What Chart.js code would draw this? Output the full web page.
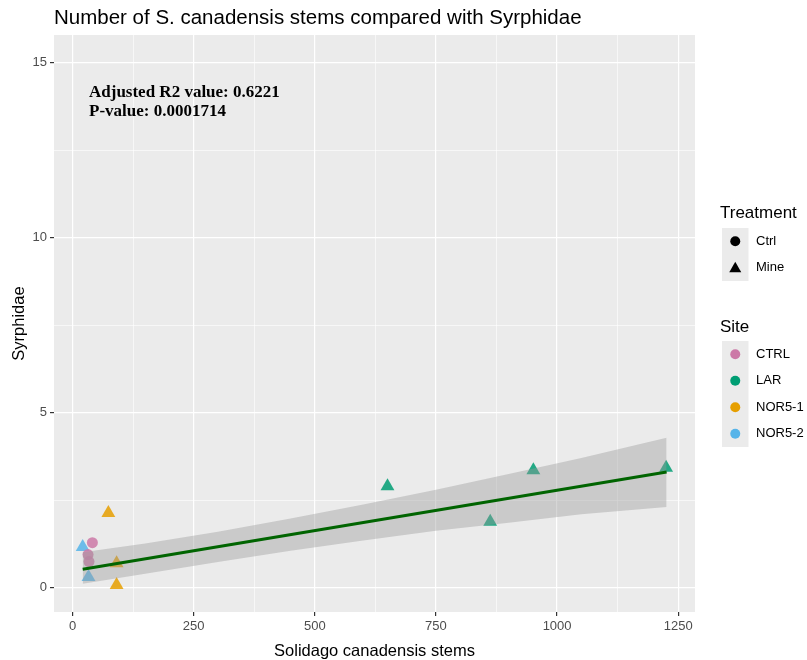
<!DOCTYPE html>
<html>
<head>
<meta charset="utf-8">
<title>S. canadensis stems vs Syrphidae</title>
<script src="https://cdn.jsdelivr.net/npm/chart.js@4.4.1/dist/chart.umd.min.js"></script>
<style>
  body { margin: 0; background: #fff; }
  canvas { display: block; }
</style>
</head>
<body>
<canvas id="syrphidChart" width="807" height="660"></canvas>
<script>
// Observations per site (stems, syrphid count)
const ctrlStems = [41, 32, 34];
const ctrlSyrphidae = [1.29, 0.95, 0.75];
const larStems = [650, 862, 951, 1225];
const larSyrphidae = [2.90, 1.89, 3.36, 3.43];
const nor51Stems = [74, 91, 91];
const nor51Syrphidae = [2.14, 0.70, 0.08];
const nor52Stems = [21, 33];
const nor52Syrphidae = [1.17, 0.31];

// Linear fit and its confidence band
const fitStems = [21, 1226];
const fitValues = [0.53, 3.31];
const bandStems = [21, 150, 300, 450, 600, 750, 900, 1050, 1226];
const bandLower = [0.12, 0.40, 0.74, 1.06, 1.35, 1.63, 1.86, 2.10, 2.31];
const bandUpper = [1.02, 1.27, 1.60, 1.98, 2.38, 2.80, 3.25, 3.71, 4.29];

// Axis breaks
const xTicks = [0, 250, 500, 750, 1000, 1250];
const xMinor = [125, 375, 625, 875, 1125];
const yTicks = [0, 5, 10, 15];
const yMinor = [2.5, 7.5, 12.5];

const siteNames = ['CTRL', 'LAR', 'NOR5-1', 'NOR5-2'];
const siteColors = ['#CC79A7', '#009E73', '#E69F00', '#56B4E9'];

const SANS = '"Liberation Sans", Arial, sans-serif';

const toPoints = (xs, ys) => xs.map((x, i) => ({ x: x, y: ys[i] }));
const withAlpha = (hex, a) => {
    const n = parseInt(hex.slice(1), 16);
    return `rgba(${n >> 16},${(n >> 8) & 255},${n & 255},${a})`;
};

function pointSet(label, xs, ys, color, shape, order) {
    return {
        label: label,
        data: toPoints(xs, ys),
        pointStyle: shape,
        pointRadius: shape === 'triangle' ? 8 : 5.5,
        backgroundColor: withAlpha(color, 0.85),
        borderWidth: 0,
        order: order
    };
}

// ggplot-like panel background, title, annotation and legends
const ggDecor = {
    id: 'ggDecor',
    beforeDraw(chart) {
        const { ctx, chartArea: a } = chart;
        ctx.save();
        ctx.fillStyle = '#fff';
        ctx.fillRect(0, 0, chart.width, chart.height);
        ctx.fillStyle = '#EBEBEB';
        ctx.fillRect(a.left, a.top, a.right - a.left, a.bottom - a.top);
        ctx.restore();
    },
    afterDraw(chart) {
        const { ctx, chartArea: a } = chart;
        ctx.save();
        ctx.fillStyle = '#000';
        ctx.textBaseline = 'alphabetic';

        ctx.font = '20.5px ' + SANS;
        ctx.textAlign = 'left';
        ctx.fillText('Number of S. canadensis stems compared with Syrphidae', a.left, 24);

        ctx.font = '16.5px ' + SANS;
        ctx.textAlign = 'center';
        ctx.fillText('Solidago canadensis stems', (a.left + a.right) / 2, 656);
        ctx.save();
        ctx.translate(24, (a.top + a.bottom) / 2);
        ctx.rotate(-Math.PI / 2);
        ctx.fillText('Syrphidae', 0, 0);
        ctx.restore();

        ctx.font = 'bold 17px "Liberation Serif", "Times New Roman", serif';
        ctx.textAlign = 'left';
        ctx.fillText('Adjusted R2 value: 0.6221', a.left + 35, 97);
        ctx.fillText('P-value: 0.0001714', a.left + 35, 116);

        // Treatment legend
        const keyX = 722, keySize = 26.5, labelX = 756;
        ctx.font = '17px ' + SANS;
        ctx.fillText('Treatment', 720, 218);
        ctx.fillStyle = '#EBEBEB';
        ctx.fillRect(keyX, 228, keySize, keySize * 2);
        ctx.fillStyle = '#000';
        ctx.beginPath();
        ctx.arc(keyX + keySize / 2, 228 + keySize / 2, 5, 0, Math.PI * 2);
        ctx.fill();
        const ty = 228 + keySize * 1.5;
        ctx.beginPath();
        ctx.moveTo(keyX + keySize / 2, ty - 6);
        ctx.lineTo(keyX + keySize / 2 + 6, ty + 4.5);
        ctx.lineTo(keyX + keySize / 2 - 6, ty + 4.5);
        ctx.closePath();
        ctx.fill();
        ctx.font = '13px ' + SANS;
        ctx.textBaseline = 'middle';
        ctx.fillText('Ctrl', labelX, 228 + keySize / 2);
        ctx.fillText('Mine', labelX, ty);

        // Site legend
        ctx.textBaseline = 'alphabetic';
        ctx.font = '17px ' + SANS;
        ctx.fillText('Site', 720, 332);
        const siteTop = 341;
        ctx.fillStyle = '#EBEBEB';
        ctx.fillRect(keyX, siteTop, keySize, keySize * siteNames.length);
        ctx.font = '13px ' + SANS;
        ctx.textBaseline = 'middle';
        siteNames.forEach((name, i) => {
            const cy = siteTop + keySize * (i + 0.5);
            ctx.fillStyle = siteColors[i];
            ctx.beginPath();
            ctx.arc(keyX + keySize / 2, cy, 5, 0, Math.PI * 2);
            ctx.fill();
            ctx.fillStyle = '#000';
            ctx.fillText(name, labelX, cy);
        });
        ctx.restore();
    }
};

const isMajor = (list, v) => list.includes(v);

new Chart(document.getElementById('syrphidChart').getContext('2d'), {
    type: 'scatter',
    data: {
        datasets: [
            {
                label: 'fit',
                data: toPoints(fitStems, fitValues),
                showLine: true,
                borderColor: '#006400',
                borderWidth: 3,
                pointRadius: 0,
                order: 0
            },
            {
                label: 'upper',
                data: toPoints(bandStems, bandUpper),
                showLine: true,
                borderWidth: 0,
                pointRadius: 0,
                fill: '+1',
                backgroundColor: 'rgba(153,153,153,0.4)',
                order: 1
            },
            {
                label: 'lower',
                data: toPoints(bandStems, bandLower),
                showLine: true,
                borderWidth: 0,
                pointRadius: 0,
                order: 2
            },
            pointSet('CTRL', ctrlStems, ctrlSyrphidae, siteColors[0], 'circle', 3),
            pointSet('LAR', larStems, larSyrphidae, siteColors[1], 'triangle', 4),
            pointSet('NOR5-1', nor51Stems, nor51Syrphidae, siteColors[2], 'triangle', 5),
            pointSet('NOR5-2', nor52Stems, nor52Syrphidae, siteColors[3], 'triangle', 6)
        ]
    },
    options: {
        responsive: false,
        animation: false,
        layout: { padding: { left: 0, top: 35, right: 112, bottom: 0 } },
        plugins: { legend: { display: false }, tooltip: { enabled: false } },
        scales: {
            x: {
                type: 'linear',
                min: -38.2,
                max: 1284.6,
                afterBuildTicks: s => { s.ticks = xTicks.concat(xMinor).sort((p, q) => p - q).map(v => ({ value: v })); },
                afterFit: s => { s.height = 48; },
                border: { display: false },
                grid: {
                    color: '#fff',
                    lineWidth: c => isMajor(xTicks, c.tick.value) ? 1.2 : 0.6,
                    tickColor: c => isMajor(xTicks, c.tick.value) ? '#333' : 'rgba(0,0,0,0)',
                    tickLength: 4
                },
                ticks: {
                    autoSkip: false,
                    maxRotation: 0,
                    padding: 3,
                    color: '#4D4D4D',
                    font: { family: SANS, size: 13 },
                    callback: v => isMajor(xTicks, v) ? String(v) : ''
                }
            },
            y: {
                type: 'linear',
                min: -0.69,
                max: 15.79,
                afterBuildTicks: s => { s.ticks = yTicks.concat(yMinor).sort((p, q) => p - q).map(v => ({ value: v })); },
                afterFit: s => { s.width = 54; },
                border: { display: false },
                grid: {
                    color: '#fff',
                    lineWidth: c => isMajor(yTicks, c.tick.value) ? 1.2 : 0.6,
                    tickColor: c => isMajor(yTicks, c.tick.value) ? '#333' : 'rgba(0,0,0,0)',
                    tickLength: 4
                },
                ticks: {
                    autoSkip: false,
                    padding: 3,
                    color: '#4D4D4D',
                    font: { family: SANS, size: 13 },
                    callback: v => isMajor(yTicks, v) ? String(v) : ''
                }
            }
        }
    },
    plugins: [ggDecor]
});
</script>
</body>
</html>
